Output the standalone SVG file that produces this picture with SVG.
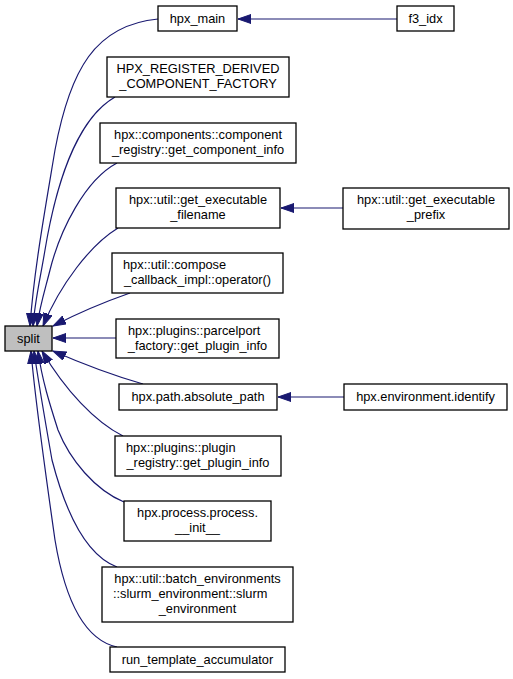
<svg xmlns="http://www.w3.org/2000/svg" width="513" height="679" viewBox="0 0 513 679">
<defs>
<style>
.n rect{fill:#ffffff;stroke:#000000;stroke-width:1.3}
.n text{font-family:"Liberation Sans",Arial,sans-serif;font-size:12.8px;fill:#000000}
.c{text-anchor:middle}
#edges path{fill:none;stroke:#191970;stroke-width:1.2}
</style>
<marker id="ah" markerUnits="userSpaceOnUse" markerWidth="14" markerHeight="10" refX="13" refY="4.5" orient="auto">
<path d="M0,0 L13,4.5 L0,9 z" fill="#191970" stroke="#191970" stroke-width="1"/>
</marker>
</defs>
<rect width="513" height="679" fill="#ffffff"/>
<g id="edges">
<path d="M397,19 L238,19" marker-end="url(#ah)"/>
<path d="M343,208 L281,208" marker-end="url(#ah)"/>
<path d="M344,397 L278,397" marker-end="url(#ah)"/>
<path d="M158,19 C95,25 70,70 55,150 C45,210 34,270 30,326" marker-end="url(#ah)"/>
<path d="M115,97 C75,120 55,190 45,250 C40,280 35,300 33,326" marker-end="url(#ah)"/>
<path d="M117,163 C85,180 60,230 50,270 C45,290 40,305 37,326" marker-end="url(#ah)"/>
<path d="M118,228 C90,245 60,285 43,326" marker-end="url(#ah)"/>
<path d="M130,293 C110,300 80,312 53,326" marker-end="url(#ah)"/>
<path d="M116,338 L53,338" marker-end="url(#ah)"/>
<path d="M143,384 C115,376 85,365 53,351" marker-end="url(#ah)"/>
<path d="M123,436 C95,422 65,390 42,351" marker-end="url(#ah)"/>
<path d="M124,502 C95,490 70,460 58,430 C50,405 42,380 38,351" marker-end="url(#ah)"/>
<path d="M117,567 C85,555 65,510 52,460 C45,420 38,380 34,351" marker-end="url(#ah)"/>
<path d="M117,647 C85,640 65,600 55,540 C45,470 35,400 31,351" marker-end="url(#ah)"/>
</g>
<g id="split" class="n"><rect x="5" y="326" width="47" height="25" style="fill:#bfbfbf"/><text class="c" x="28.5" y="343">split</text></g>
<g id="hpx_main" class="n"><rect x="158" y="6" width="79" height="25"/><text class="c" x="197.5" y="23">hpx_main</text></g>
<g id="f3_idx" class="n"><rect x="397" y="6" width="57" height="25"/><text class="c" x="425.5" y="23">f3_idx</text></g>
<g id="hpx_register" class="n"><rect x="107" y="57" width="182" height="40"/><text class="c" x="198" y="73">HPX_REGISTER_DERIVED</text><text class="c" x="198" y="88">_COMPONENT_FACTORY</text></g>
<g id="component_info" class="n"><rect x="100" y="123" width="196" height="40"/><text class="c" x="198" y="139">hpx::components::component</text><text class="c" x="198" y="154">_registry::get_component_info</text></g>
<g id="exec_filename" class="n"><rect x="116" y="188" width="164" height="40"/><text class="c" x="198" y="204">hpx::util::get_executable</text><text class="c" x="198" y="219">_filename</text></g>
<g id="exec_prefix" class="n"><rect x="343" y="188" width="166" height="41"/><text class="c" x="426" y="204">hpx::util::get_executable</text><text class="c" x="426" y="219">_prefix</text></g>
<g id="compose" class="n"><rect x="112" y="253" width="171" height="40"/><text x="123" y="269">hpx::util::compose</text><text class="c" x="197.5" y="284">_callback_impl::operator()</text></g>
<g id="parcelport" class="n"><rect x="116" y="319" width="163" height="39"/><text x="128" y="335">hpx::plugins::parcelport</text><text class="c" x="197.5" y="350">_factory::get_plugin_info</text></g>
<g id="absolute_path" class="n"><rect x="119" y="384" width="158" height="26"/><text class="c" x="198" y="401">hpx.path.absolute_path</text></g>
<g id="env_identify" class="n"><rect x="344" y="384" width="163" height="26"/><text class="c" x="425.5" y="401">hpx.environment.identify</text></g>
<g id="plugin_registry" class="n"><rect x="115" y="436" width="166" height="40"/><text x="126" y="452">hpx::plugins::plugin</text><text class="c" x="198" y="467">_registry::get_plugin_info</text></g>
<g id="process_init" class="n"><rect x="124" y="501" width="147" height="40"/><text class="c" x="197.5" y="517">hpx.process.process.</text><text class="c" x="197.5" y="532">__init__</text></g>
<g id="slurm" class="n"><rect x="102" y="567" width="191" height="55"/><text class="c" x="197.5" y="583">hpx::util::batch_environments</text><text x="113" y="598">::slurm_environment::slurm</text><text class="c" x="197.5" y="613">_environment</text></g>
<g id="run_template" class="n"><rect x="110" y="647" width="175" height="25"/><text class="c" x="197.5" y="664">run_template_accumulator</text></g>
</svg>
